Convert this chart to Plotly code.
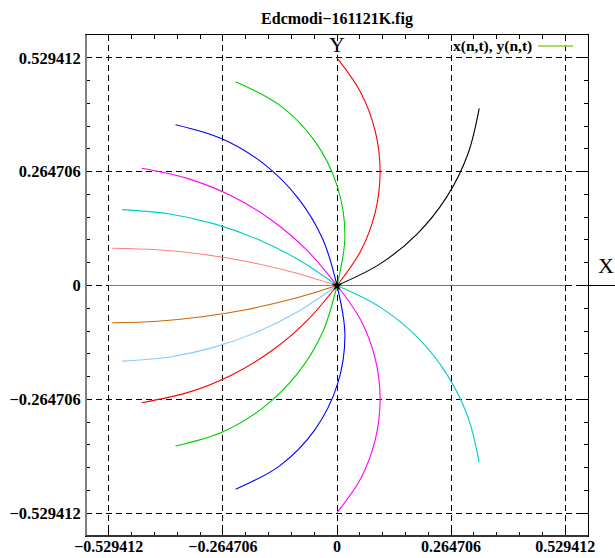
import plotly.graph_objects as go

# ---- data (x, y pairs, from origin to curve end) ----
red_up_x = [0, 0.0544, 0.0884, 0.1000, 0.0884, 0.0544, 0.0]
red_up_y = [0, 0.0792, 0.1691, 0.2645, 0.3599, 0.4498, 0.529]

black_x = [0, 0.099, 0.185, 0.2543, 0.3033, 0.330]
black_y = [0, 0.0496, 0.119, 0.2055, 0.3046, 0.412]

bluer_x = [0, 0.528]
bluer_y = [0, 0.0]

cyan_dn_x = [0, 0.099, 0.185, 0.2543, 0.3033, 0.330]
cyan_dn_y = [0, -0.0496, -0.119, -0.2055, -0.3046, -0.411]

mag_dn_x = [0, 0.0544, 0.0884, 0.1000, 0.0884, 0.0544, 0.0]
mag_dn_y = [0, -0.0792, -0.1691, -0.2645, -0.3599, -0.4498, -0.528]

blue_dn_x = [0, 0.0184, 0.0008, -0.0511, -0.1323, -0.2352]
blue_dn_y = [0, -0.1153, -0.2306, -0.3351, -0.4187, -0.4737]

green_dn_x = [0, -0.0329, -0.0909, -0.1705, -0.2670, -0.3746]
green_dn_y = [0, -0.1076, -0.2039, -0.2833, -0.3412, -0.3731]

red_dn_x = [0, -0.0705, -0.1532, -0.2465, -0.3474, -0.4535]
red_dn_y = [0, -0.0828, -0.1529, -0.2090, -0.2491, -0.2724]

lblue_x = [0, -0.0892, -0.1853, -0.2865, -0.3914, -0.4984]
lblue_y = [0, -0.0598, -0.1081, -0.1439, -0.1668, -0.1757]

brown_x = [0, -0.1043, -0.2086, -0.3130, -0.4173, -0.5216]
brown_y = [0, -0.0315, -0.0556, -0.0727, -0.0830, -0.0867]

grey_x = [0, -0.5294]
grey_y = [0, 0.0]

salmon_x = [0, -0.1043, -0.2086, -0.3130, -0.4173, -0.5216]
salmon_y = [0, 0.0315, 0.0556, 0.0727, 0.0830, 0.0867]

cyan_up_x = [0, -0.0892, -0.1853, -0.2865, -0.3914, -0.4984]
cyan_up_y = [0, 0.0598, 0.1081, 0.1439, 0.1668, 0.1765]

mag_up_x = [0, -0.0705, -0.1532, -0.2465, -0.3474, -0.4535]
mag_up_y = [0, 0.0828, 0.1529, 0.2090, 0.2491, 0.2725]

blue_up_x = [0, -0.0329, -0.0909, -0.1705, -0.2670, -0.3746]
blue_up_y = [0, 0.1076, 0.2039, 0.2833, 0.3412, 0.3739]

green_up_x = [0, 0.0184, 0.0008, -0.0511, -0.1323, -0.2352]
green_up_y = [0, 0.1153, 0.2306, 0.3351, 0.4187, 0.4737]

tick_vals = [-0.529412, -0.264706, 0, 0.264706, 0.529412]
tick_text = ["\u22120.529412", "\u22120.264706", "0", "0.264706", "0.529412"]
axis_lim = 0.5823532
minor_step = 0.0529412

title_text = "Edcmodi\u2212161121K.fig"
legend_text = "x(n,t), y(n,t)"

curves = [
    (red_up_x, red_up_y, "#ff0000"),
    (black_x, black_y, "#000000"),
    (bluer_x, bluer_y, "#6262ff"),
    (cyan_dn_x, cyan_dn_y, "#00cccc"),
    (mag_dn_x, mag_dn_y, "#ff00ff"),
    (blue_dn_x, blue_dn_y, "#0000ff"),
    (green_dn_x, green_dn_y, "#00cc00"),
    (red_dn_x, red_dn_y, "#ff0000"),
    (lblue_x, lblue_y, "#88ccff"),
    (brown_x, brown_y, "#cc6600"),
    (grey_x, grey_y, "#808080"),
    (salmon_x, salmon_y, "#ff8080"),
    (cyan_up_x, cyan_up_y, "#00cccc"),
    (mag_up_x, mag_up_y, "#ff00ff"),
    (blue_up_x, blue_up_y, "#0000ff"),
    (green_up_x, green_up_y, "#00cc00"),
]

fig = go.Figure()
for xs, ys, c in curves:
    fig.add_trace(go.Scatter(x=xs, y=ys, mode="lines",
                             line=dict(color=c, width=1.1, shape="spline", smoothing=1.0),
                             showlegend=False, hoverinfo="skip"))
fig.add_trace(go.Scatter(x=[0], y=[0], mode="markers",
                         marker=dict(symbol="star", size=8, color="black"),
                         showlegend=False, hoverinfo="skip"))

serif = "Liberation Serif"


def axis_common(size, standoff):
    return dict(
        range=[-axis_lim, axis_lim],
        tickmode="array", tickvals=tick_vals, ticktext=tick_text,
        ticks="inside", ticklen=6, tickwidth=1.2, tickcolor="black",
        showline=True, linecolor="black", linewidth=1, mirror="allticks",
        showgrid=True, gridcolor="black", gridwidth=1, griddash="6px,4px",
        zeroline=False,
        minor=dict(ticks="inside", ticklen=4, tickwidth=1.2, tickcolor="black",
                   tick0=0, dtick=minor_step, showgrid=False),
        tickfont=dict(family=serif, size=size, color="black", weight="bold"),
        ticklabelstandoff=standoff,
        automargin=False, fixedrange=True,
    )


fig.update_layout(
    width=615, height=558,
    margin=dict(l=86, r=27, t=35, b=22),
    paper_bgcolor="white", plot_bgcolor="white",
    xaxis=axis_common(16, -4),
    yaxis=axis_common(16.5, 1),
    title=dict(text=title_text, x=337 / 615, xanchor="center", y=1 - 18 / 558, yanchor="middle",
               font=dict(family=serif, size=16, color="black", weight="bold")),
    showlegend=False,
)

# frame emphasis (left grey, bottom dark)
fig.add_shape(type="line", xref="paper", yref="paper", x0=0, x1=0, y0=0, y1=1,
              line=dict(color="#808080", width=2))
fig.add_shape(type="line", xref="paper", yref="paper", x0=0, x1=1, y0=0, y1=0,
              line=dict(color="#333333", width=2))
# X axis extension line to the right
fig.add_shape(type="line", xref="paper", yref="y", x0=(582 - 86) / 502, x1=(615 - 86) / 502,
              y0=0, y1=0, line=dict(color="black", width=1))

# axis letters
fig.add_annotation(text="Y", xref="x", yref="paper", x=0, y=(536 - 44) / 501,
                   showarrow=False, xanchor="center", yanchor="middle",
                   font=dict(family=serif, size=22, color="black"))
fig.add_annotation(text="X", xref="paper", yref="paper", x=(606 - 86) / 502, y=(536 - 265) / 501,
                   showarrow=False, xanchor="center", yanchor="middle",
                   font=dict(family=serif, size=22, color="black"))

# legend (text + sample line)
fig.add_annotation(text=legend_text, xref="paper", yref="paper", x=(534 - 86) / 502, y=(536 - 46) / 501,
                   showarrow=False, xanchor="right", yanchor="middle",
                   font=dict(family=serif, size=15.5, color="black", weight="bold"))
fig.add_shape(type="line", xref="paper", yref="paper", x0=(538 - 86) / 502, x1=(573 - 86) / 502,
              y0=(536 - 46) / 501, y1=(536 - 46) / 501, line=dict(color="#99cc33", width=1.5))

fig.write_html("out.html")
